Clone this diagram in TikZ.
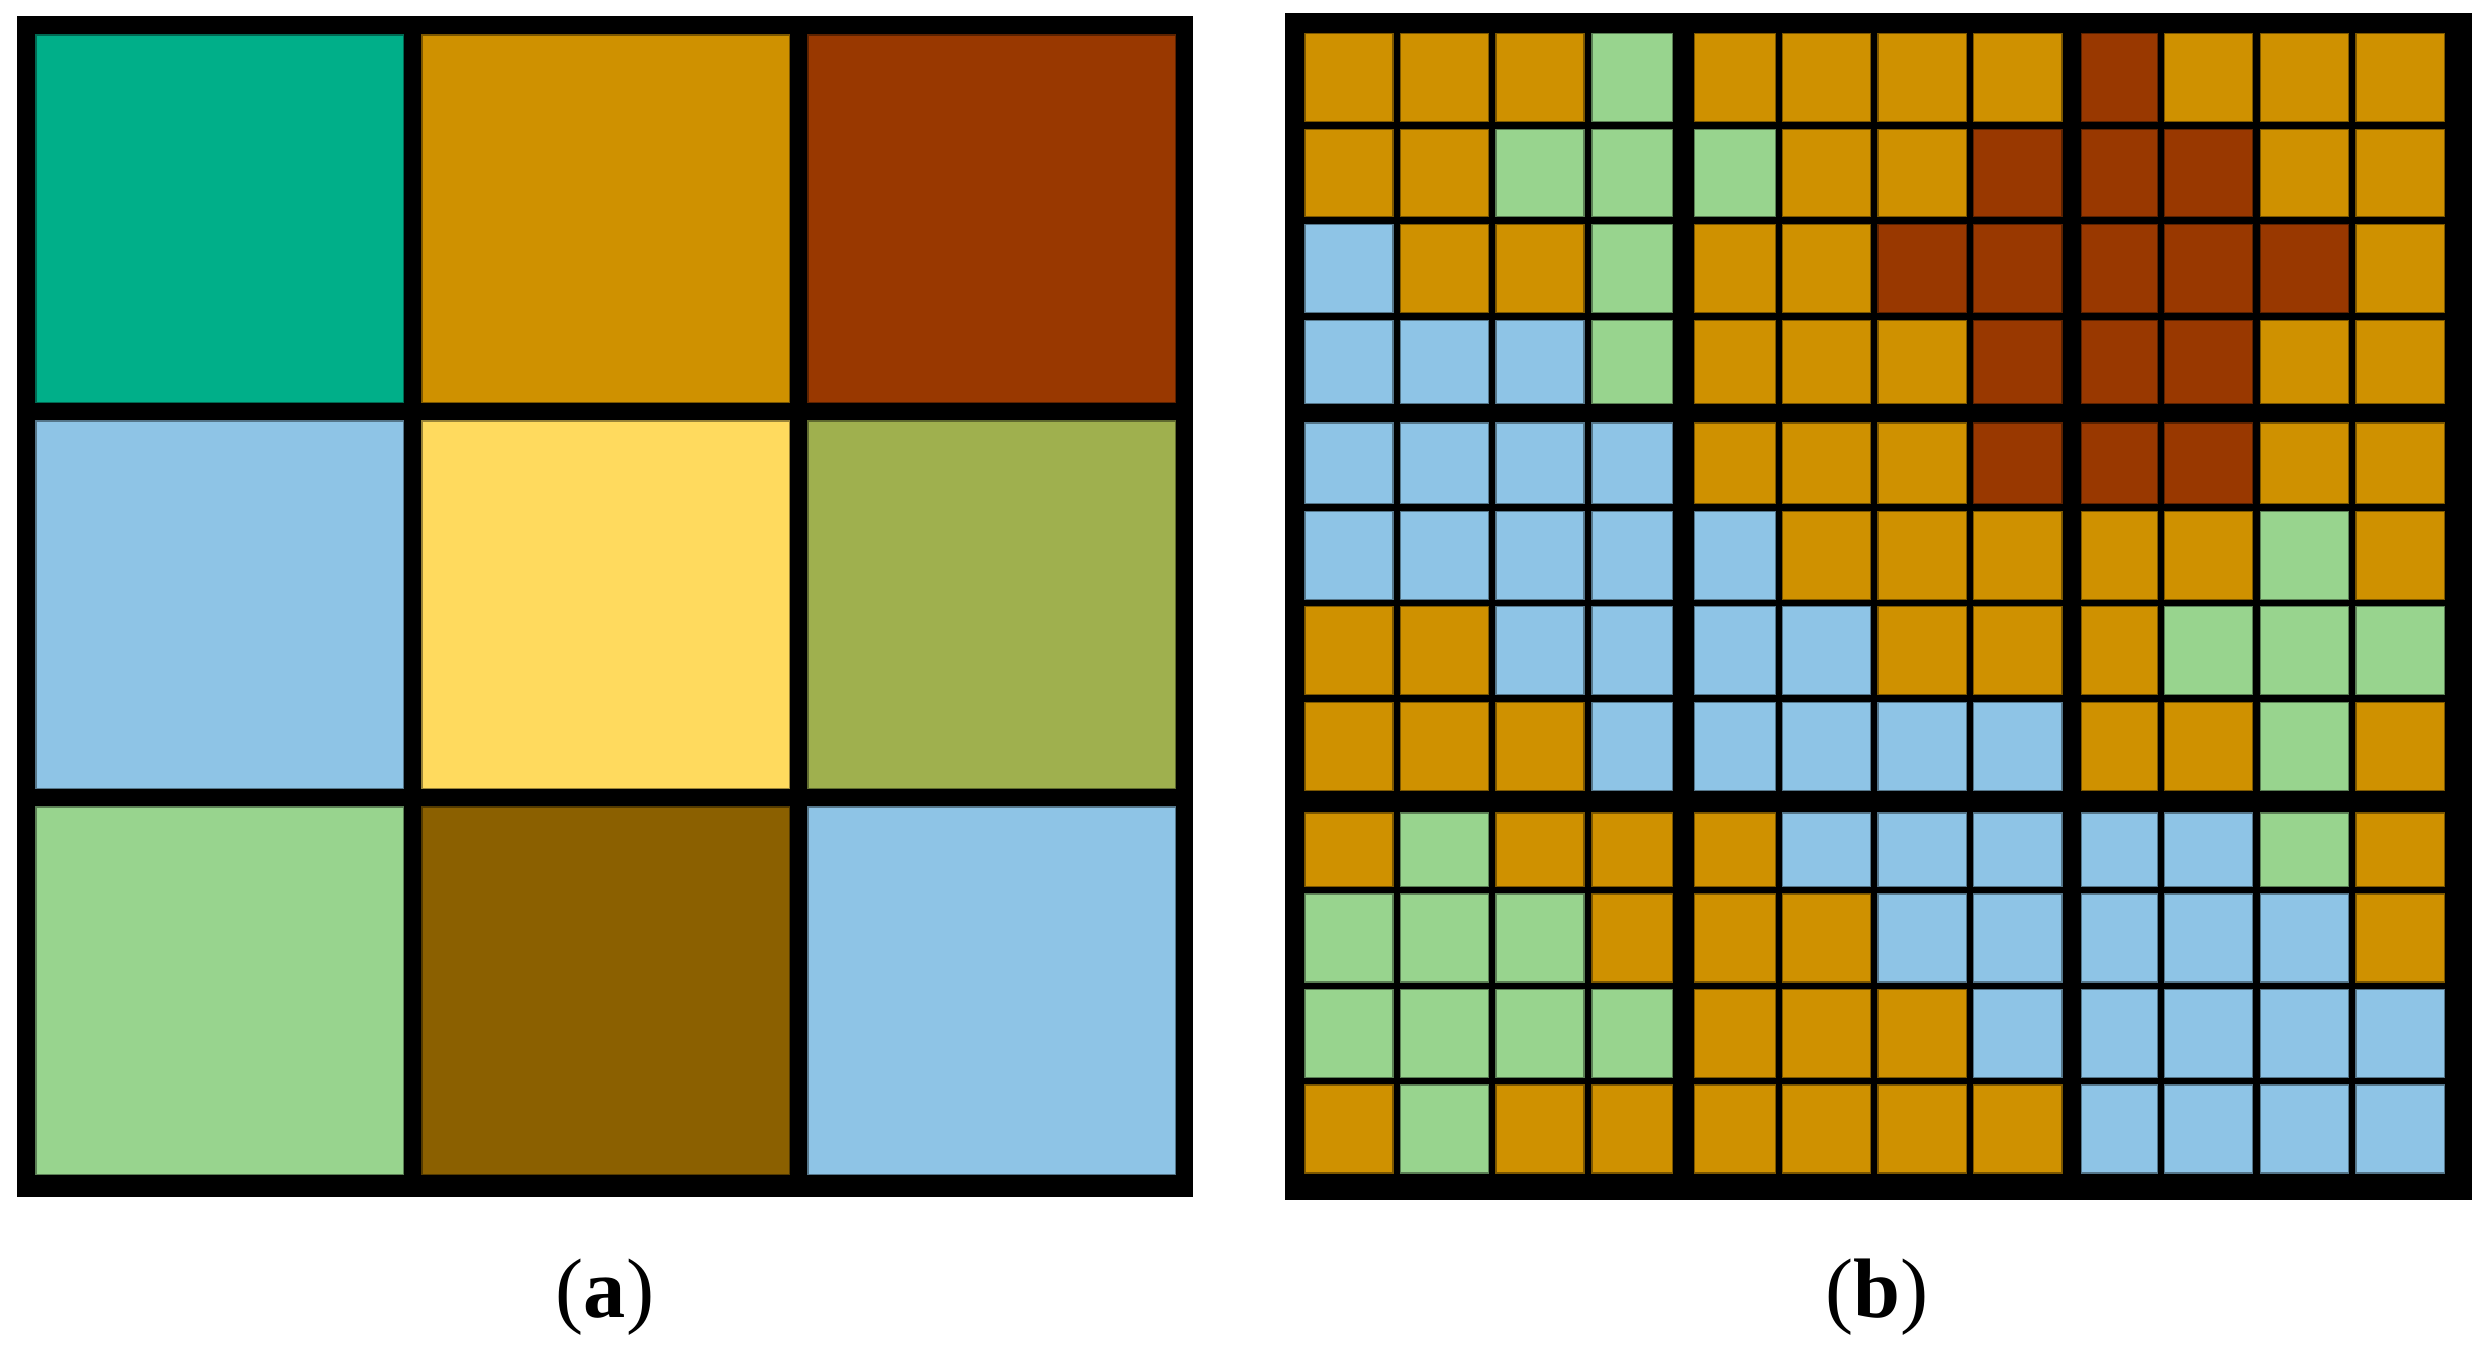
\documentclass[tikz,border=0pt]{standalone}
\usepackage{fontspec}
\setmainfont{Liberation Serif}
\definecolor{cT}{RGB}{0,175,137}
\definecolor{cO}{RGB}{207,145,0}
\definecolor{cR}{RGB}{153,56,0}
\definecolor{cB}{RGB}{142,196,230}
\definecolor{cY}{RGB}{255,218,94}
\definecolor{cV}{RGB}{159,176,78}
\definecolor{cG}{RGB}{152,212,142}
\definecolor{cW}{RGB}{139,96,0}
\tikzset{
  cell/.style={fill=#1, draw=#1!60!black, line width=0.35pt},
  lbl/.style={font=\fontsize{24}{28}\selectfont, inner sep=0pt, anchor=base}
}
\begin{document}
\begin{tikzpicture}[x=0.01cm,y=-0.01cm]
\useasboundingbox (0,0) rectangle (2488,1345);
\fill[white] (0,0) rectangle (2488,1345);
% ---------- panel (a)
\fill[black] (17,16) rectangle (1193,1197);
\foreach \row [count=\r from 0] in {{T,O,R},{B,Y,V},{G,W,B}} {
  \foreach \k [count=\c from 0] in \row {
    \filldraw[cell=c\k] ({36+386*\c},{35+386*\r}) rectangle ++(367.5,367.5);
  }
}
% ---------- panel (b)
\fill[black] (1285,13) rectangle (2472,1199.5);
\def\XS{{1305,1400.5,1496,1592,1694.3,1782.5,1878,1973.7,2081.3,2164.8,2260.2,2356}}
\def\XE{{1393,1488.5,1584,1672.3,1775.2,1870.5,1966.2,2062,2157.7,2252.7,2348.5,2444.3}}
\def\YS{{33.5,129.2,224.6,320.4,423.1,511.5,606.6,702.4,812.9,893.9,989.3,1085}}
\def\YE{{121.4,216.8,312.6,403.3,503.7,599.5,694.6,790.3,886.1,981.9,1077.2,1173}}
\foreach \row [count=\r from 0] in {
  {O,O,O,G,O,O,O,O,R,O,O,O},
  {O,O,G,G,G,O,O,R,R,R,O,O},
  {B,O,O,G,O,O,R,R,R,R,R,O},
  {B,B,B,G,O,O,O,R,R,R,O,O},
  {B,B,B,B,O,O,O,R,R,R,O,O},
  {B,B,B,B,B,O,O,O,O,O,G,O},
  {O,O,B,B,B,B,O,O,O,G,G,G},
  {O,O,O,B,B,B,B,B,O,O,G,O},
  {O,G,O,O,O,B,B,B,B,B,G,O},
  {G,G,G,O,O,O,B,B,B,B,B,O},
  {G,G,G,G,O,O,O,B,B,B,B,B},
  {O,G,O,O,O,O,O,O,B,B,B,B}} {
  \foreach \k [count=\c from 0] in \row {
    \pgfmathsetmacro\xa{\XS[\c]}
    \pgfmathsetmacro\xb{\XE[\c]}
    \pgfmathsetmacro\ya{\YS[\r]}
    \pgfmathsetmacro\yb{\YE[\r]}
    \filldraw[cell=c\k] (\xa,\ya) rectangle (\xb,\yb);
  }
}
% ---------- labels
\node[lbl] (la) at (605,1317) {(\textbf{a})};
\node[lbl] (lb) at (1877,1317) {(\textbf{b})};
\end{tikzpicture}
\end{document}
